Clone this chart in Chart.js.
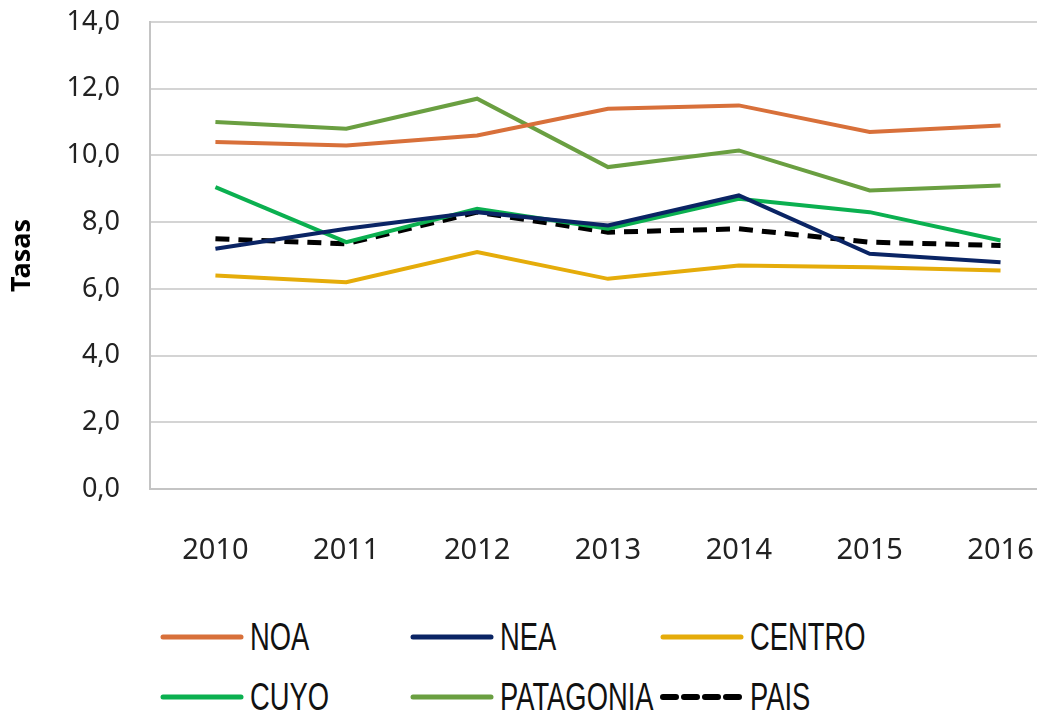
<!DOCTYPE html>
<html>
<head>
<meta charset="utf-8">
<script src="https://cdn.jsdelivr.net/npm/chart.js@4.4.1/dist/chart.umd.min.js"></script>
<style>
  html, body { margin: 0; padding: 0; background: #fff; overflow: hidden; }
  #wrap { position: relative; width: 1070px; height: 580px; }
  #legend { position: absolute; left: 0; top: 612px; width: 1037px; }
  .item { position: absolute; display: flex; align-items: center; height: 50px; white-space: nowrap;
          font-family: "Liberation Sans", sans-serif; font-size: 38px; color: #111; }
  .item svg { margin-right: 6px; }
  .item span { display: inline-block; transform: scaleX(0.72); transform-origin: left center; }
</style>
</head>
<body>
<div id="wrap"><canvas id="tasasChart"></canvas></div>
<div id="legend"></div>
<script>
const years = ['2010', '2011', '2012', '2013', '2014', '2015', '2016'];
const noa = [10.4, 10.3, 10.6, 11.4, 11.5, 10.7, 10.9];
const nea = [7.2, 7.8, 8.3, 7.9, 8.8, 7.05, 6.8];
const centro = [6.4, 6.2, 7.1, 6.3, 6.7, 6.65, 6.55];
const cuyo = [9.05, 7.4, 8.4, 7.8, 8.7, 8.3, 7.45];
const patagonia = [11.0, 10.8, 11.7, 9.65, 10.15, 8.95, 9.1];
const pais = [7.5, 7.35, 8.3, 7.7, 7.8, 7.4, 7.3];

const series = [
  { label: 'NOA', data: noa, color: '#D8703A' },
  { label: 'NEA', data: nea, color: '#0A2464' },
  { label: 'CENTRO', data: centro, color: '#E5AC0A' },
  { label: 'CUYO', data: cuyo, color: '#0BB050' },
  { label: 'PATAGONIA', data: patagonia, color: '#6A9F41' },
  { label: 'PAIS', data: pais, color: '#000000', dash: [14, 9] }
];

const ctx = document.getElementById('tasasChart').getContext('2d');
const chart = new Chart(ctx, {
  type: 'line',
  data: {
    labels: years,
    datasets: series.map(s => ({
      label: s.label,
      data: s.data,
      borderColor: s.color,
      backgroundColor: s.color,
      borderWidth: s.dash ? 5 : 4,
      borderDash: s.dash || [],
      pointRadius: 0,
      tension: 0
    }))
  },
  options: {
    responsive: true,
    maintainAspectRatio: false,
    animation: false,
    layout: { padding: { top: 22, right: 4, bottom: 0, left: 0 } },
    plugins: {
      legend: { display: false },
      tooltip: { enabled: false }
    },
    scales: {
      x: {
        offset: true,
        grid: { display: false },
        border: { display: true, color: '#c4c4c4', width: 2 },
        ticks: { color: '#222', padding: 36, font: { family: 'Noto Sans', size: 29 } },
        afterFit: (s) => { s.height = 91; }
      },
      y: {
        min: 0,
        max: 14,
        border: { display: true, color: '#c4c4c4', width: 2 },
        grid: { color: '#d4d4d4', lineWidth: 2, drawTicks: false },
        ticks: {
          stepSize: 2,
          padding: 30,
          color: '#222',
          font: { family: 'Noto Sans', size: 27 },
          callback: (v) => v.toFixed(1).replace('.', ',')
        },
        title: {
          display: true,
          text: 'Tasas',
          color: '#000',
          font: { family: 'Noto Sans', size: 27, weight: 'bold' },
          padding: { top: 6, bottom: 0 }
        },
        afterFit: (s) => {
          s.width = 150;
          s.paddingTop = 0;
          s.paddingBottom = 0;
        }
      }
    }
  }
});

// legend laid out as a 3-column grid like the original
const legend = document.getElementById('legend');
const colX = [160, 410, 660];
const rowY = [0, 60];
series.forEach((s, i) => {
  const item = document.createElement('div');
  item.className = 'item';
  item.style.left = colX[i % 3] + 'px';
  item.style.top = rowY[Math.floor(i / 3)] + 'px';
  const dash = s.dash ? ' stroke-dasharray="13 8"' : '';
  item.innerHTML = '<svg width="84" height="10"><line x1="3" y1="5" x2="81" y2="5" stroke="' + s.color +
    '" stroke-width="' + (s.dash ? 6 : 5) + '" stroke-linecap="round"' + dash + '/></svg>';
  const txt = document.createElement('span');
  txt.textContent = s.label;
  item.appendChild(txt);
  legend.appendChild(item);
});
</script>
</body>
</html>
